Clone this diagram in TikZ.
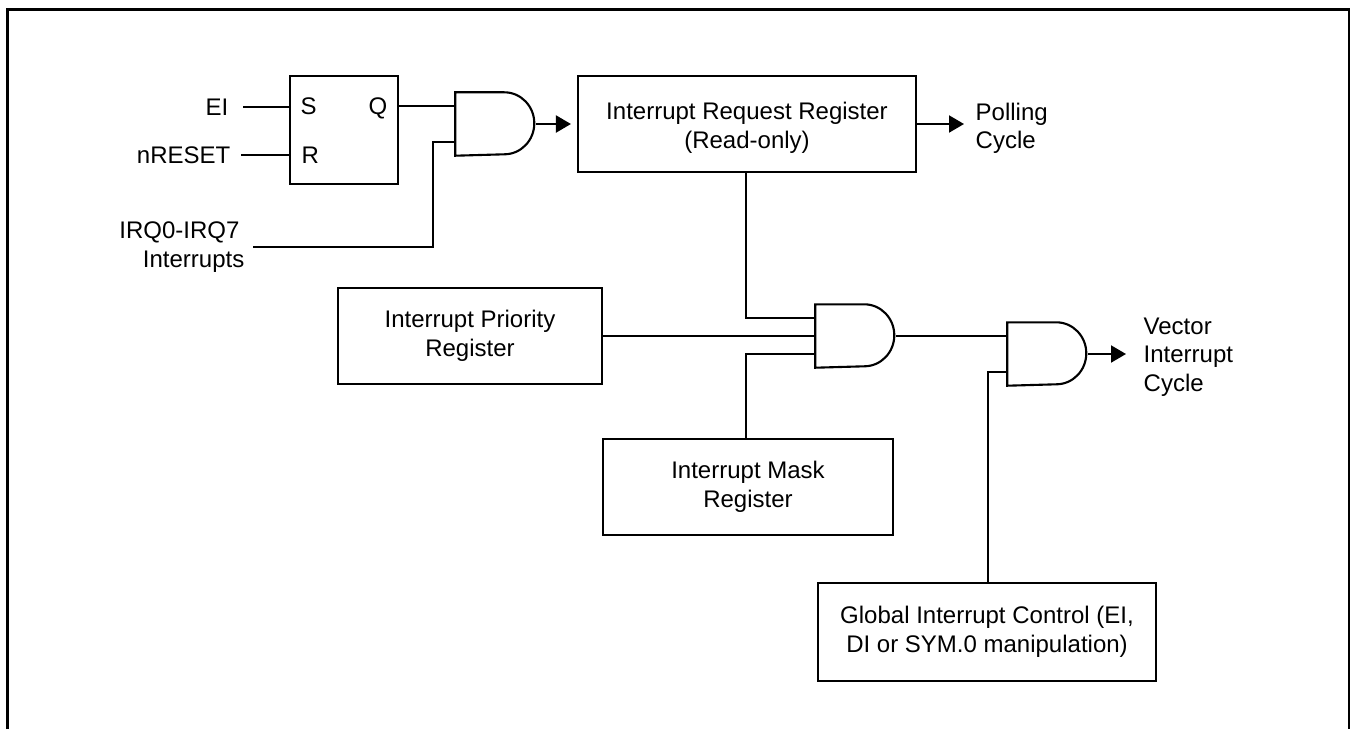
\documentclass[tikz,border=0pt]{standalone}
\usepackage{fontspec}
\setmainfont{Liberation Sans}
\usepackage{xcolor}
\usepackage{tikz}
\usetikzlibrary{arrows.meta,positioning,calc}
\newcommand{\figfont}{\fontsize{6.83}{8.1}\selectfont}
\newcommand{\andgate}[2]{\node[gatebox] (#1) at (#2) {};
  \draw[sig] (#1.north west) -- ++(0.49,0) arc[start angle=90,end angle=-90,x radius=0.30,y radius=0.31] -- (#1.south west) -- cycle;
  \coordinate (#1in1) at ([yshift=0.18cm]#1.west);\coordinate (#1in2) at ([yshift=-0.18cm]#1.west);}

\begin{document}
\begin{tikzpicture}[x=1cm,y=1cm,font=\figfont]
\tikzset{reg/.style={draw=black,line width=0.6pt,align=center,inner sep=0pt},
  gatebox/.style={inner sep=0pt,minimum width=0.79cm,minimum height=0.62cm},
  lab/.style={align=center,inner sep=0pt},
  sig/.style={draw=black,line width=0.6pt},
  arr/.style={sig,-{Triangle[length=0.15cm,width=0.17cm]}}}
\useasboundingbox (0,0) rectangle (13.5,7.29);
\draw[line width=0.85pt] (0.075,0) |- (13.495,7.195) -- (13.495,0);
\node[reg,minimum width=1.08cm,minimum height=1.08cm] (sr) at (3.44,5.99) {};
\node[lab,anchor=base west] (s) at (3.00,6.15) {S};\node[lab,anchor=base east] (q) at (3.88,6.15) {Q};\node[lab,anchor=base west] (r) at (3.01,5.66) {R};
\node[reg,minimum width=3.38cm,minimum height=0.96cm] (req) at (7.47,6.05) {\rule{0pt}{7pt}Interrupt Request Register\\(Read-only)};
\node[reg,minimum width=2.64cm,minimum height=0.96cm] (prio) at (4.70,3.93) {Interrupt Priority\\Register};
\node[reg,minimum width=2.90cm,minimum height=0.96cm] (mask) at (7.48,2.42) {Interrupt Mask\\Register};
\node[reg,minimum width=3.38cm,minimum height=0.98cm] (glob) at (9.87,0.97) {Global Interrupt Control (EI,\\DI or SYM.0 manipulation)};
\andgate{and1}{4.955,6.05}
\andgate{and2}{8.555,3.93}
\andgate{and3}{10.475,3.75}
\node[lab,anchor=east,inner xsep=0.14cm] (ei) at (2.43,6.22) {EI};
\node[lab,anchor=east,inner xsep=0.10cm] (nrst) at (2.41,5.74) {nRESET};
\node[lab,align=right,anchor=east,inner xsep=0.08cm] (irq) at (2.53,4.82) {IRQ0-IRQ7\kern1.4pt\\Interrupts};
\node[lab,align=left,anchor=west,inner xsep=0.11cm] (poll) at (9.64,6.005) {Polling\\Cycle};
\node[lab,align=left,anchor=west,inner xsep=0.17cm] (vec) at (11.26,3.72) {Vector\\Interrupt\\Cycle};
\draw[sig] (ei) -- (ei -| sr.west);\draw[sig] (nrst) -- (nrst -| sr.west);
\draw[sig] (sr.east |- and1in1) -- (and1in1);
\draw[sig] (irq) -| ([xshift=-0.22cm]and1in2) -- (and1in2);
\draw[arr,shorten >=0.06cm] (and1.east) -- (req.west |- and1.east);
\draw[arr] (req.east) -- (req.east -| poll.west);
\draw[sig] ([xshift=-0.01cm]req.south) |- (and2in1);
\draw[sig] (prio.east) -- (and2.west);
\draw[sig] ([xshift=-0.02cm]mask.north) |- (and2in2);
\draw[sig] (and2.east) -- (and2.east -| and3.west);
\draw[sig] ([xshift=0.01cm]glob.north) |- (and3in2);
\draw[arr] (and3.east) -- (and3.east -| vec.west);
\end{tikzpicture}
\end{document}
